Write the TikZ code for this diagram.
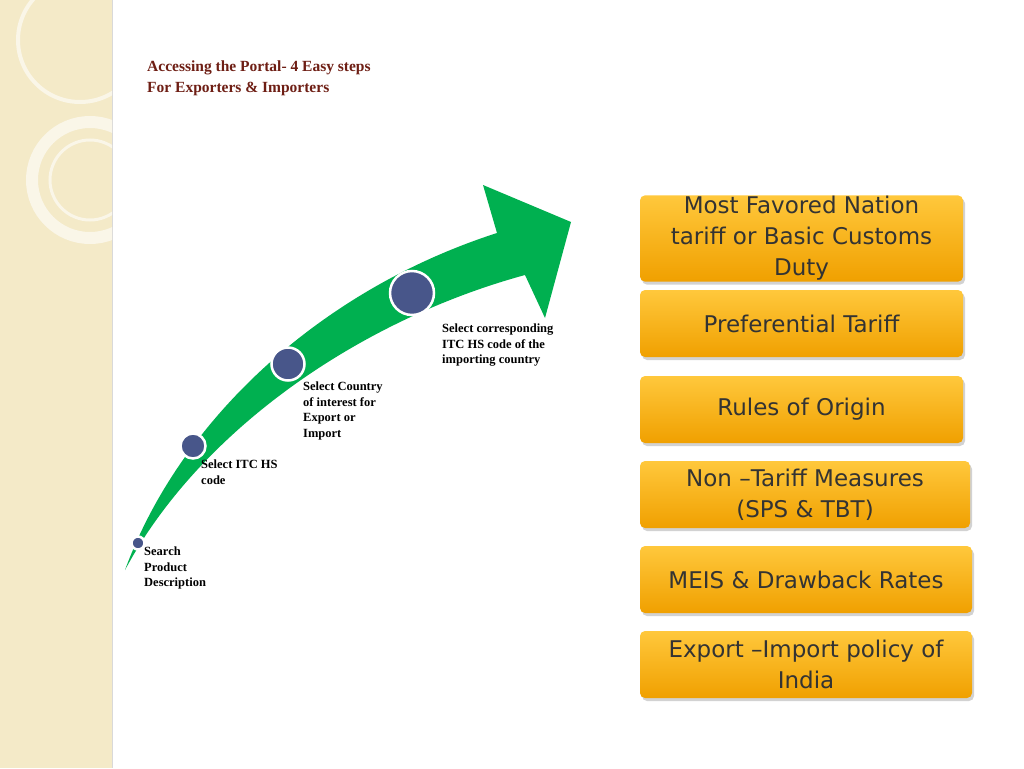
\documentclass[tikz,border=0pt]{standalone}
\usepackage{fontspec}
\setmainfont{Liberation Serif}
\newfontfamily\boxfont{DejaVu Sans}
\usetikzlibrary{positioning,shadows}
\definecolor{beige}{RGB}{244,234,200}
\definecolor{ring}{RGB}{250,246,232}
\definecolor{titlered}{RGB}{110,30,20}
\definecolor{arrowgreen}{RGB}{0,176,80}
\definecolor{dotblue}{RGB}{72,86,138}
\definecolor{boxtop}{RGB}{255,200,60}
\definecolor{boxbot}{RGB}{240,160,0}
\tikzset{
  stepnote/.style={font=\bfseries\fontsize{12.5}{15.5}\selectfont, align=left, anchor=north west, inner sep=0pt},
  dot/.style={circle, fill=dotblue, draw=white, line width=2.5pt, inner sep=0pt},
  tbox/.style={rounded corners=5pt, top color=boxtop, bottom color=boxbot, draw=none,
    drop shadow={shadow xshift=2pt, shadow yshift=-3pt, opacity=.35},
    text=black!80, font=\boxfont\fontsize{23}{31}\selectfont, align=center, minimum height=67pt, inner sep=1pt}
}
\begin{document}
\begin{tikzpicture}[x=1pt,y=-1pt]
\useasboundingbox (0,0) rectangle (1024,768);
\fill[white] (0,0) rectangle (1024,768);
% side band
\fill[beige] (0,0) rectangle (112,768);
\draw[black!15] (112,0) -- (112,768);
\begin{scope}
\clip (0,0) rectangle (112,768);
\draw[ring, line width=4pt] (80,40) circle (62);
\draw[ring, line width=12pt] (90,180) circle (58);
\draw[ring, line width=3pt] (90,180) circle (40);
\end{scope}
% title
\node[font=\bfseries\fontsize{15.5}{21}\selectfont, text=titlered, align=left, anchor=north west, inner sep=0pt]
  (title) at (147,61) {Accessing the Portal- 4 Easy steps\\For Exporters \& Importers};
% arrow
\fill[arrowgreen] (125,570) .. controls (180,420) and (320,290) .. (497,233)
  -- (483,185) -- (571,222) -- (545,318) -- (525,275)
  .. controls (360,320) and (200,430) .. (125,570) -- cycle;
\node[dot, minimum size=13pt] (d1) at (138,543) {};
\node[dot, minimum size=25pt] (d2) at (193,446) {};
\node[dot, minimum size=33pt] (d3) at (288,364) {};
\node[dot, minimum size=44pt] (d4) at (412,293) {};
\node[stepnote] (s1) at (144,547) {Search\\Product\\Description};
\node[stepnote] (s2) at (201,460) {Select ITC HS\\code};
\node[stepnote] (s3) at (303,382) {Select Country\\of interest for\\Export or\\Import};
\node[stepnote] (s4) at (442,324) {Select corresponding\\ITC HS code of the\\importing country};
% boxes
\node[tbox, minimum width=323pt] (b1) at (801.5,238.5) {Most Favored Nation\\tariff or Basic Customs\\Duty};
\node[tbox, minimum width=323pt] (b2) at (801.5,323.5) {Preferential Tariff};
\node[tbox, minimum width=323pt] (b3) at (801.5,409.5) {Rules of Origin};
\node[tbox, minimum width=330pt] (b4) at (805,494.5) {Non –Tariff Measures\\(SPS \& TBT)};
\node[tbox, minimum width=332pt] (b5) at (806,579.5) {MEIS \& Drawback Rates};
\node[tbox, minimum width=332pt] (b6) at (806,664.5) {Export –Import policy of\\India};
\end{tikzpicture}
\end{document}
